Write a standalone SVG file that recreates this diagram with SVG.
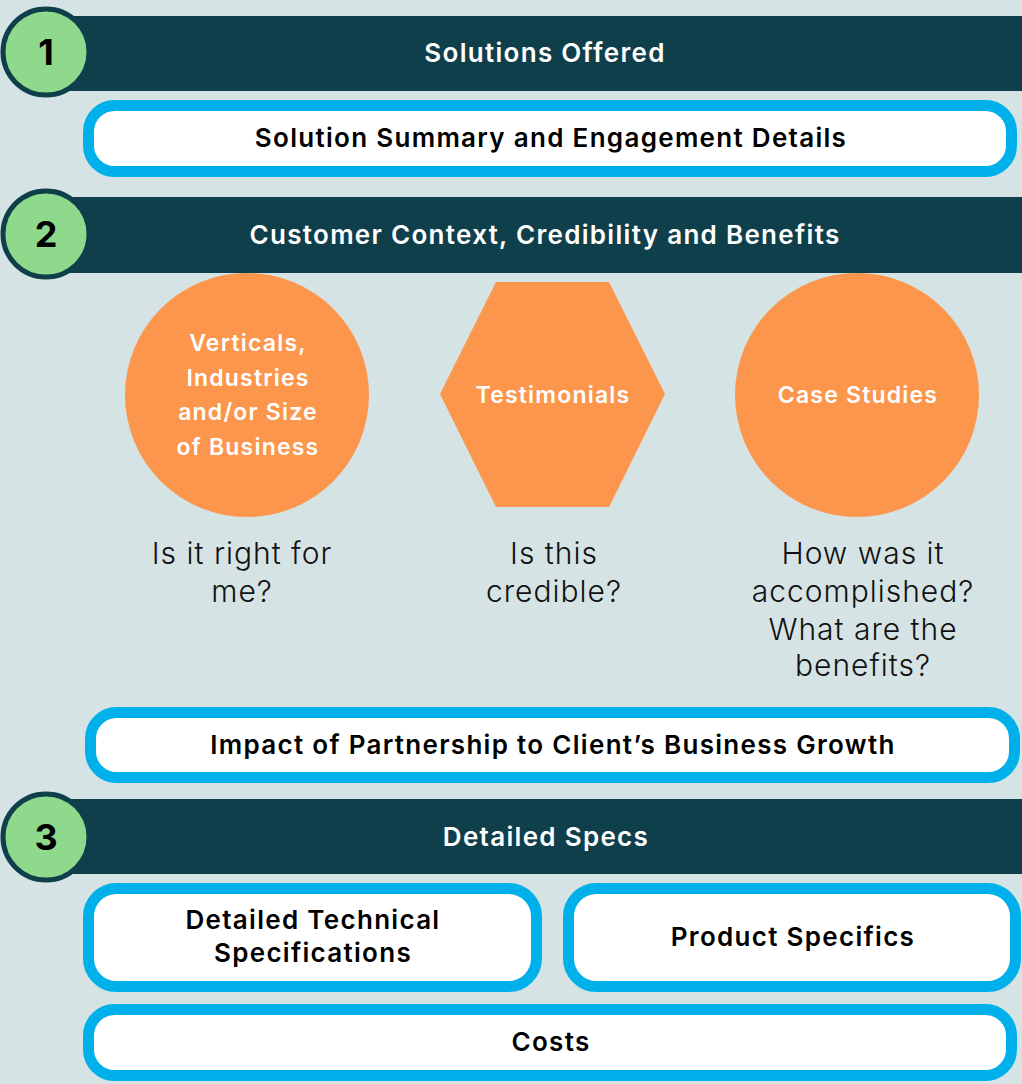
<svg xmlns="http://www.w3.org/2000/svg" width="1022" height="1084" viewBox="0 0 1022 1084">
<style>
.bar{fill:#0f3f4b}
.num{fill:#8fd98c;stroke:#0f3f4b;stroke-width:5}
.numt{font-family:Inter,"Liberation Sans",sans-serif;font-weight:700;font-size:36px;fill:#000;text-anchor:middle}
.hdr{font-family:Inter,"Liberation Sans",sans-serif;font-weight:600;font-size:26px;letter-spacing:1.3px;fill:#fff;text-anchor:middle}
.box{fill:#fff;stroke:#00b0eb;stroke-width:11}
.bt{font-family:Inter,"Liberation Sans",sans-serif;font-weight:600;font-size:26px;letter-spacing:1.3px;fill:#000;text-anchor:middle}
.or{fill:#fb964c}
.ot{font-family:Inter,"Liberation Sans",sans-serif;font-weight:600;font-size:23px;letter-spacing:1.2px;fill:#fff;text-anchor:middle}
.q{font-family:Inter,"Liberation Sans",sans-serif;font-weight:300;font-size:30px;letter-spacing:1px;fill:#111;text-anchor:middle}
</style>
<rect width="1022" height="1084" fill="#d6e3e4"/>
<g id="section1">
<rect class="bar" x="46" y="16" width="976" height="75"/>
<circle class="num" cx="46" cy="52" r="43"/>
<text class="numt" x="46" y="65">1</text>
<text class="hdr" x="545" y="62">Solutions Offered</text>
</g>
<g id="solution-summary">
<rect class="box" x="88.5" y="105.5" width="923" height="66" rx="26"/>
<text class="bt" x="551" y="147">Solution Summary and Engagement Details</text>
</g>
<g id="section2">
<rect class="bar" x="46" y="197" width="976" height="76"/>
<circle class="num" cx="46" cy="234" r="43"/>
<text class="numt" x="46" y="247">2</text>
<text class="hdr" x="545" y="244">Customer Context, Credibility and Benefits</text>
</g>
<g id="verticals">
<circle class="or" cx="247" cy="395" r="122"/>
<text class="ot" x="248" y="351">Verticals,</text>
<text class="ot" x="248" y="386">Industries</text>
<text class="ot" x="248" y="420">and/or Size</text>
<text class="ot" x="248" y="455">of Business</text>
<text class="q" x="242" y="564">Is it right for</text>
<text class="q" x="242" y="602">me?</text>
</g>
<g id="testimonials">
<polygon class="or" points="496,282 609,282 665,394 609,507 496,507 440,394"/>
<text class="ot" x="553" y="403">Testimonials</text>
<text class="q" x="554" y="564">Is this</text>
<text class="q" x="554" y="602">credible?</text>
</g>
<g id="case-studies">
<circle class="or" cx="857" cy="395" r="122"/>
<text class="ot" x="858" y="403">Case Studies</text>
<text class="q" x="863" y="564">How was it</text>
<text class="q" x="863" y="602">accomplished?</text>
<text class="q" x="863" y="640">What are the</text>
<text class="q" x="863" y="676">benefits?</text>
</g>
<g id="impact">
<rect class="box" x="90.5" y="712.5" width="924" height="65" rx="26"/>
<text class="bt" x="553" y="754">Impact of Partnership to Client’s Business Growth</text>
</g>
<g id="section3">
<rect class="bar" x="46" y="799" width="976" height="75"/>
<circle class="num" cx="46" cy="837" r="43"/>
<text class="numt" x="46" y="850">3</text>
<text class="hdr" x="546" y="846">Detailed Specs</text>
</g>
<g id="technical">
<rect class="box" x="88.5" y="888.5" width="448" height="98" rx="28"/>
<text class="bt" x="313" y="929">Detailed Technical</text>
<text class="bt" x="313" y="962">Specifications</text>
</g>
<g id="product">
<rect class="box" x="568.5" y="888.5" width="447" height="98" rx="28"/>
<text class="bt" x="793" y="946">Product Specifics</text>
</g>
<g id="costs">
<rect class="box" x="88.5" y="1009.5" width="923" height="66" rx="26"/>
<text class="bt" x="551" y="1051">Costs</text>
</g>
<g id="connectors"></g>
</svg>
